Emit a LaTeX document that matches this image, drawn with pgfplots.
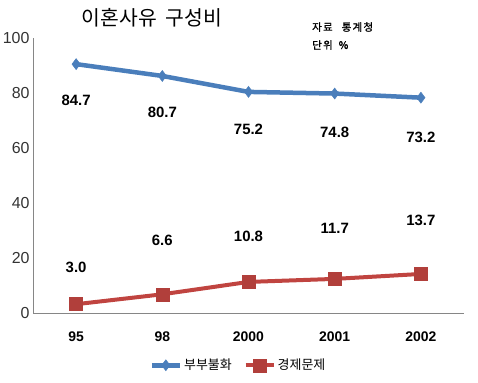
\documentclass[border=0pt]{standalone}
\usepackage{pgfplots}
\pgfplotsset{compat=1.18}
\usepackage{fontspec}
\setmainfont{Liberation Sans}
\newfontfamily\kr{Noto Sans CJK KR}
\newfontfamily\krb{Noto Sans CJK KR}[FakeBold=1.2, LetterSpace=12]
\definecolor{sblue}{RGB}{74,126,187}
\definecolor{sred}{RGB}{192,68,64}
\definecolor{axgray}{RGB}{134,134,134}
\begin{document}
\begin{tikzpicture}
\path[use as bounding box] (-33bp,-70bp) rectangle (445bp,313bp);
\begin{axis}[
  scale only axis, width=431bp, height=275bp,
  xmin=-0.5, xmax=4.5, ymin=0, ymax=100,
  axis lines=left, axis line style={draw=axgray, line width=0.8bp, -},
  xtick={0,...,4}, xticklabels={95,98,2000,2001,2002},
  ytick={0,20,...,100},
  major tick length=0pt,
  /pgf/number format/assume math mode=true,
  x tick label style={font=\fontsize{14}{16}\selectfont\bfseries, yshift=-15bp},
  y tick label style={font=\fontsize{16}{18}\selectfont, text=black!80},
  clip=false,
  legend style={at={(0.5,-0.19)}, xshift=-10bp, anchor=center, draw=none, fill=none,
    legend columns=2, font=\kr\fontsize{13}{15}\selectfont,
    /tikz/every even column/.append style={column sep=10bp}},
  legend image code/.code={\draw[mark repeat=2,mark phase=2,#1] plot coordinates {(0bp,0bp) (14bp,0bp) (28bp,0bp)};},
]
\addplot[sblue, line width=4.5bp, mark=diamond*, mark size=5.5bp, mark options={fill=sblue, line width=0.5bp}]
  coordinates {(0,90.5) (1,86.2) (2,80.4) (3,79.8) (4,78.3)};
\addlegendentry{부부불화}
\addplot[sred, line width=4bp, mark=square*, mark size=6.5bp, mark options={fill=sred!92!black, draw=sred!92!black, line width=0.5bp}]
  coordinates {(0,3.2) (1,6.8) (2,11.3) (3,12.4) (4,14.2)};
\addlegendentry{경제문제}
\begin{scope}[every node/.style={font=\fontsize{15}{17}\selectfont\bfseries}]
\node at (axis cs:0,77.4) {84.7};
\node at (axis cs:1,72.8) {80.7};
\node at (axis cs:2,66.9) {75.2};
\node at (axis cs:3,65.8) {74.8};
\node at (axis cs:4,64.0) {73.2};
\node at (axis cs:0,16.7) {3.0};
\node at (axis cs:1,26.3) {6.6};
\node at (axis cs:2,28.0) {10.8};
\node at (axis cs:3,30.7) {11.7};
\node at (axis cs:4,33.6) {13.7};
\end{scope}
\end{axis}
\node[font=\kr\fontsize{20.5}{24}\selectfont] at (119bp,295bp) {이혼사유\ \ 구성비};
\node[font=\krb\fontsize{10.5}{12}\selectfont, anchor=west, inner sep=0pt] at (279bp,286bp) {자료\hspace{9bp}통계청};
\node[font=\krb\fontsize{10.5}{12}\selectfont, anchor=west, inner sep=0pt] at (279bp,268bp) {단위\hspace{6bp}\%};
\end{tikzpicture}
\end{document}
